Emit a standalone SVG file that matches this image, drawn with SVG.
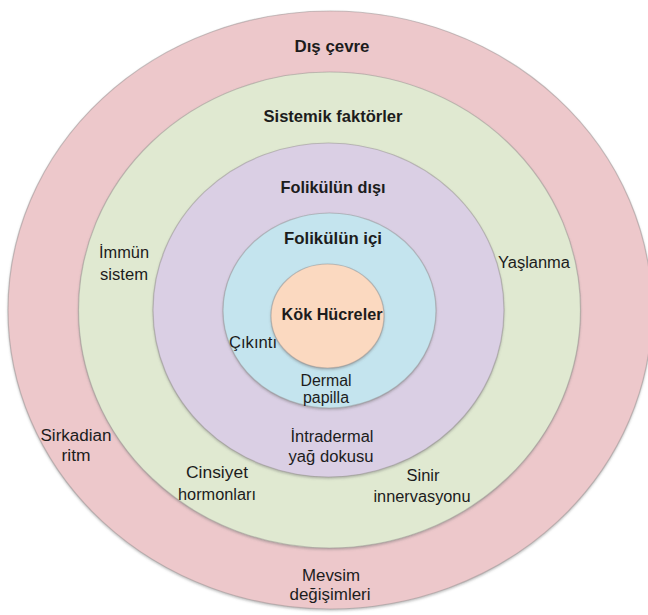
<svg xmlns="http://www.w3.org/2000/svg" width="648" height="615" viewBox="0 0 648 615">
<style>
.ring{stroke:#8f8a8a;stroke-opacity:0.45;stroke-width:1.2}
text{font-family:"Liberation Sans",Arial,sans-serif;fill:#1c1c1c;text-anchor:middle;font-size:16px}
.b{font-weight:bold;font-size:17px}
</style>
<defs>
<filter id="sh" x="-5%" y="-5%" width="110%" height="112%">
<feDropShadow dx="0" dy="1.5" stdDeviation="1.2" flood-color="#6f6f6f" flood-opacity="0.45"/>
</filter>
</defs>
<rect width="648" height="615" fill="#ffffff"/>
<g id="dis-cevre">
<ellipse class="ring" filter="url(#sh)" cx="330" cy="310" rx="322" ry="299" fill="#edc8cb"/>
<text class="b" x="332" y="52" textLength="75" lengthAdjust="spacingAndGlyphs">Dış çevre</text>
<text x="76" y="441" textLength="71" lengthAdjust="spacingAndGlyphs">Sirkadian</text>
<text x="76" y="461" textLength="29" lengthAdjust="spacingAndGlyphs">ritm</text>
<text x="331" y="581" textLength="58" lengthAdjust="spacingAndGlyphs">Mevsim</text>
<text x="330" y="600" textLength="81" lengthAdjust="spacingAndGlyphs">değişimleri</text>
</g>
<g id="sistemik-faktorler">
<ellipse class="ring" filter="url(#sh)" cx="329.5" cy="310" rx="251" ry="238" fill="#e0e9d1"/>
<text class="b" x="333" y="122" textLength="139" lengthAdjust="spacingAndGlyphs">Sistemik faktörler</text>
<text x="124" y="258" textLength="50" lengthAdjust="spacingAndGlyphs">İmmün</text>
<text x="124" y="280" textLength="48" lengthAdjust="spacingAndGlyphs">sistem</text>
<text x="534" y="268" textLength="72" lengthAdjust="spacingAndGlyphs">Yaşlanma</text>
<text x="217" y="478" textLength="62" lengthAdjust="spacingAndGlyphs">Cinsiyet</text>
<text x="217" y="500" textLength="78" lengthAdjust="spacingAndGlyphs">hormonları</text>
<text x="423" y="481" textLength="33" lengthAdjust="spacingAndGlyphs">Sinir</text>
<text x="422" y="502" textLength="97" lengthAdjust="spacingAndGlyphs">innervasyonu</text>
</g>
<g id="folikulun-disi">
<ellipse class="ring" filter="url(#sh)" cx="328.5" cy="310" rx="175.5" ry="167" fill="#dacfe4"/>
<text class="b" x="333" y="193" textLength="105" lengthAdjust="spacingAndGlyphs">Folikülün dışı</text>
<text x="332" y="442" textLength="83" lengthAdjust="spacingAndGlyphs">İntradermal</text>
<text x="331" y="462" textLength="85" lengthAdjust="spacingAndGlyphs">yağ dokusu</text>
</g>
<g id="folikulun-ici">
<ellipse class="ring" filter="url(#sh)" cx="329.5" cy="310.5" rx="106.5" ry="97.5" fill="#c4e4ee"/>
<text class="b" x="333" y="244" textLength="98" lengthAdjust="spacingAndGlyphs">Folikülün içi</text>
<text x="253" y="348" textLength="48" lengthAdjust="spacingAndGlyphs">Çıkıntı</text>
<text x="326" y="386" textLength="51" lengthAdjust="spacingAndGlyphs">Dermal</text>
<text x="326" y="403" textLength="46" lengthAdjust="spacingAndGlyphs">papilla</text>
</g>
<g id="kok-hucreler">
<ellipse class="ring" filter="url(#sh)" cx="327.5" cy="316" rx="56.5" ry="52" fill="#fbd9c0"/>
<text class="b" x="332" y="320" textLength="101" lengthAdjust="spacingAndGlyphs">Kök Hücreler</text>
</g>
</svg>
